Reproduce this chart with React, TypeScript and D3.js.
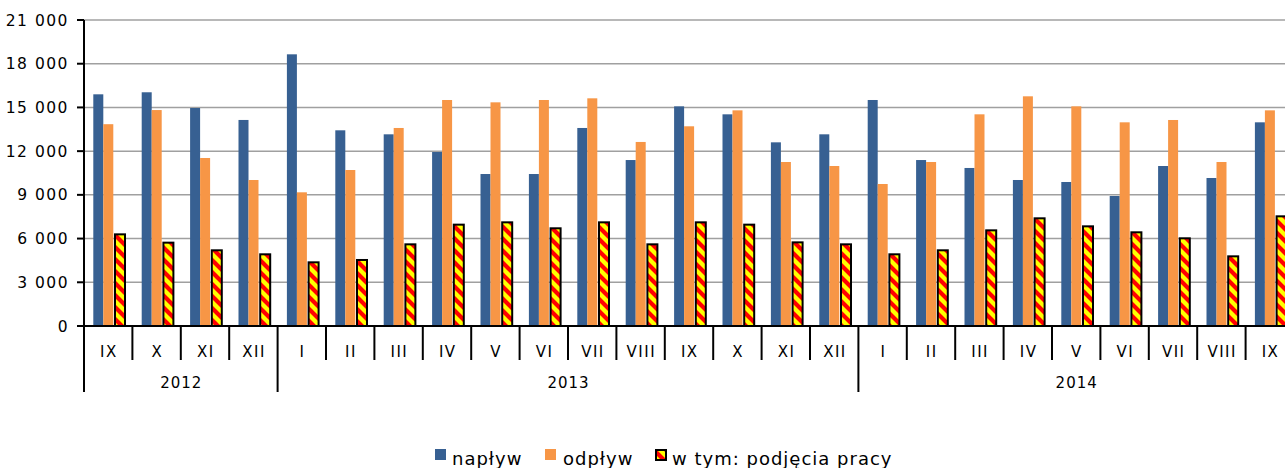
import React from "react";
import * as d3 from "d3";

const months = ["IX","X","XI","XII","I","II","III","IV","V","VI","VII","VIII","IX","X","XI","XII","I","II","III","IV","V","VI","VII","VIII","IX"];
const years = [
  { label: "2012", start: 0, end: 4 },
  { label: "2013", start: 4, end: 16 },
  { label: "2014", start: 16, end: 25 },
];
const naplyw = [15900,16040,14960,14140,18645,13430,13155,11940,10430,10430,13590,11390,15075,14527,12605,13155,15510,11390,10845,10020,9883,8922,10980,10157,13978];
const odplyw = [13850,14820,11530,10020,9175,10706,13590,15510,15350,15510,15625,12630,13705,14800,11255,10980,9745,11255,14527,15763,15075,13978,14138,11255,14800];
const podjecia = [6290,5720,5195,4920,4370,4530,5605,6955,7115,6705,7115,5605,7115,6955,5740,5605,4920,5195,6565,7390,6840,6430,6017,4781,7527];
const yTicks = [0,3000,6000,9000,12000,15000,18000,21000];
const legendLabels = ["napływ","odpływ","w tym: podjęcia pracy"];

const W = 1285, H = 468;
const left = 84, top = 20, bottom = 326;
const step = 48.4;

const FONT = "'DejaVu Sans', Verdana, sans-serif";
const fmt = (v: number) => {
  const s = String(v);
  return s.length > 3 ? s.slice(0, s.length - 3) + "\u00a0" + s.slice(-3) : s;
};

export default function App() {
  const x = d3.scaleBand<number>().domain(d3.range(months.length)).range([left, left + step * months.length]).padding(0);
  const y = d3.scaleLinear().domain([0, 21000]).range([bottom, top]);
  const bw = x.bandwidth();
  const f = bw / 48.4;

  return (
    <svg width={W} height={H} style={{ position: "absolute", left: 0, top: 0, background: "#fff" }}>
      <defs>
        <pattern id="hatch" patternUnits="userSpaceOnUse" width="12" height="12">
          <rect width="12" height="12" fill="#ffff00" />
          <path d="M-2,-2 L14,14 M-4,8 L4,16 M8,-4 L16,4" stroke="#ff0000" strokeWidth="4.2" />
        </pattern>
      </defs>
      {/* gridlines */}
      {yTicks.filter(t => t > 0).map(t => (
        <line key={t} x1={left} x2={W} y1={y(t)} y2={y(t)} stroke="#a0a0a0" strokeWidth={1.5} />
      ))}
      {/* bars */}
      {months.map((m, i) => {
        const bx = x(i)!;
        return (
          <g key={i}>
            <rect x={bx + 9.3 * f} y={y(naplyw[i])} width={10 * f} height={bottom - y(naplyw[i])} fill="#376092" />
            <rect x={bx + 19.3 * f} y={y(odplyw[i])} width={10 * f} height={bottom - y(odplyw[i])} fill="#f79646" />
            <rect x={bx + 31 * f} y={y(podjecia[i])} width={10 * f} height={bottom - y(podjecia[i])} fill="url(#hatch)" stroke="#000" strokeWidth={2} />
          </g>
        );
      })}
      {/* y axis */}
      <line x1={left} x2={left} y1={top} y2={392} stroke="#000" strokeWidth={2} />
      {yTicks.map(t => (
        <g key={t}>
          <line x1={77} x2={left} y1={y(t)} y2={y(t)} stroke="#000" strokeWidth={2} />
          <text x={69} y={y(t)} dy="0.36em" textAnchor="end" fontFamily={FONT} fontSize={15.5} letterSpacing={1.5} fill="#000">{fmt(t)}</text>
        </g>
      ))}
      {/* x axis */}
      <line x1={77} x2={W} y1={bottom} y2={bottom} stroke="#000" strokeWidth={2} />
      {months.map((m, i) => {
        const bx = x(i)!;
        const isYear = years.some(yr => yr.start === i);
        return (
          <g key={i}>
            {i > 0 && <line x1={bx} x2={bx} y1={bottom} y2={isYear ? 392 : 360} stroke="#000" strokeWidth={2} />}
            <text x={bx + bw / 2 + 0.75} y={352} dy="0.36em" textAnchor="middle" fontFamily={FONT} fontSize={15} letterSpacing={1.5} fill="#000">{m}</text>
          </g>
        );
      })}
      {years.map(yr => {
        const cx = (x(yr.start)! + left + step * yr.end) / 2;
        return (
          <text key={yr.label} x={cx + 0.5} y={383} dy="0.36em" textAnchor="middle" fontFamily={FONT} fontSize={15} letterSpacing={1} fill="#000">{yr.label}</text>
        );
      })}
      {/* legend */}
      <g fontFamily={FONT} fontSize={18} letterSpacing={1} fill="#000">
        <rect x={435} y={449} width={11} height={11} fill="#376092" />
        <text x={452} y={465}>{legendLabels[0]}</text>
        <rect x={545} y={449} width={11} height={11} fill="#f79646" />
        <text x={563} y={465}>{legendLabels[1]}</text>
        <rect x={656} y={450} width={10} height={10} fill="url(#hatch)" stroke="#000" strokeWidth={2} />
        <text x={672} y={465}>{legendLabels[2]}</text>
      </g>
    </svg>
  );
}
